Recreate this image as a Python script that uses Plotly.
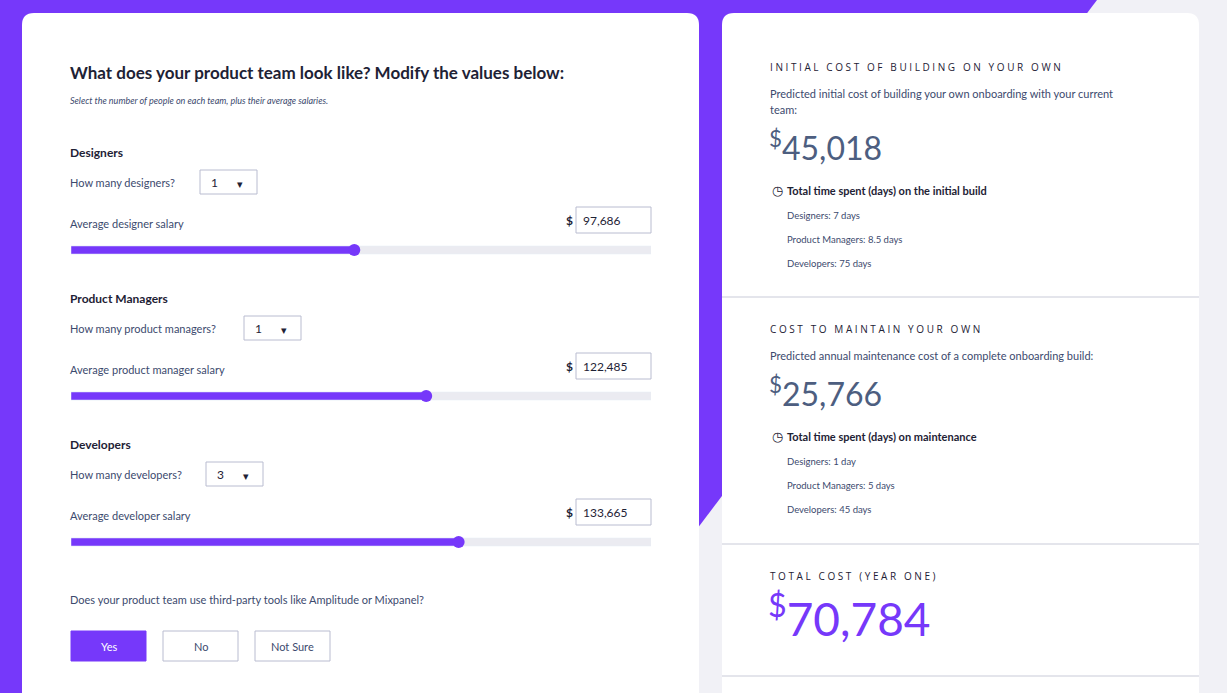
import plotly.graph_objects as go

# team inputs
roles = ["Designers", "Product Managers", "Developers"]
count_questions = ["How many designers?", "How many product managers?", "How many developers?"]
salary_labels = ["Average designer salary", "Average product manager salary", "Average developer salary"]
team_counts = [1, 1, 3]
salaries = [97686, 122485, 133665]
salary_max = 200000

# results
initial_cost = 45018
initial_days = [7, 8.5, 75]
maintain_cost = 25766
maintain_days = [1, 5, 45]
total_cost = 70784
tool_options = ["Yes", "No", "Not Sure"]

PURPLE = "#7638fa"
DARK = "#1e2235"
MUTED = "#3c4a6e"
BIGNUM = "#4d5e80"
FONT = "Lato"

fig = go.Figure()

# slider bars on their own axis, scaled by salary
row_y = [250, 396, 542]
slider_px = [71, 651]
W, H = 1227, 693
fig.add_trace(go.Bar(x=[salary_max] * 3, y=row_y, orientation="h", width=8,
                     marker=dict(color="#ebebf1"), xaxis="x2", yaxis="y", hoverinfo="skip"))
fig.add_trace(go.Bar(x=salaries, y=row_y, orientation="h", width=8,
                     marker=dict(color=PURPLE), xaxis="x2", yaxis="y", hoverinfo="skip"))
fig.add_trace(go.Scatter(x=salaries, y=row_y, mode="markers", xaxis="x2", yaxis="y",
                         marker=dict(size=12, color=PURPLE), hoverinfo="skip"))

shapes = []
ann = []

def text(x, y, s, size=11, color=MUTED, anchor="left", weight="normal", family=FONT):
    ann.append(dict(x=x, y=y, xref="x", yref="y", text=s, showarrow=False, xanchor=anchor, yanchor="middle",
                    borderpad=0, xshift=-2 if anchor == "left" else 0,
                    font=dict(size=size, color=color, family=family, weight=weight)))

def box(x0, y0, x1, y1, fill="white", line="rgba(0,0,0,0)"):
    shapes.append(dict(type="rect", xref="x", yref="y", x0=x0, y0=y0, x1=x1, y1=y1, fillcolor=fill,
                       line=dict(color=line, width=1), layer="below"))

def path(p, fill):
    shapes.append(dict(type="path", xref="x", yref="y", path=p, fillcolor=fill, line_width=0, layer="below"))

# background
path("M0,0 L1097,0 L573,693 L0,693 Z", PURPLE)
# cards
path("M22,25 Q22,13 34,13 L687,13 Q699,13 699,25 L699,693 L22,693 Z", "white")
path("M722,25 Q722,13 734,13 L1187,13 Q1199,13 1199,25 L1199,693 L722,693 Z", "white")
for yy in [297, 544, 676]:
    shapes.append(dict(type="line", xref="x", yref="y", x0=722, x1=1199, y0=yy, y1=yy,
                       line=dict(color="#c9cbd8", width=1)))

# left card
text(71, 72, "What does your product team look like? Modify the values below:", 17, DARK, weight="bold")
text(71, 100, "<i>Select the number of people on each team, plus their average salaries.</i>", 9, MUTED)
sec_y = [152, 298, 444]
drop_x = [200, 244, 206]
for i in range(3):
    y0 = sec_y[i]
    text(71, y0, roles[i], 12, DARK, weight="bold")
    text(71, y0 + 30, count_questions[i], 11, MUTED)
    box(drop_x[i], y0 + 18, drop_x[i] + 57, y0 + 42, "white", "#b9bcd0")
    text(drop_x[i] + 12, y0 + 30, str(team_counts[i]), 12, DARK)
    text(drop_x[i] + 40, y0 + 31, "▾", 11, DARK, anchor="center")
    text(71, y0 + 71, salary_labels[i], 11, MUTED)
    text(569, y0 + 68, "$", 12, DARK, anchor="center", weight="bold")
    box(576, y0 + 55, 651, y0 + 81, "white", "#b9bcd0")
    text(584, y0 + 68, f"{salaries[i]:,}", 12, DARK)

text(71, 599, "Does your product team use third-party tools like Amplitude or Mixpanel?", 11, MUTED)
btn_x = [71, 163, 255]
for i, opt in enumerate(tool_options):
    sel = i == 0
    box(btn_x[i], 631, btn_x[i] + 75, 661, PURPLE if sel else "white", PURPLE if sel else "#b9bcd0")
    text(btn_x[i] + 37.5, 646, opt, 11, "white" if sel else MUTED, anchor="center")

# right card
def cost_block(y0, title, desc, value, days, heading):
    text(771, y0, title, 10, DARK, family="Open Sans")
    for j, d in enumerate(desc):
        text(771, y0 + 26 + j * 16, d, 11, MUTED)
    nb = y0 + 26 + (len(desc) - 1) * 16 + 41
    text(770, nb - 4, f"<sup>$</sup>{value:,}", 32, BIGNUM)
    hy = nb + 40
    text(777, hy, "◷", 13, DARK, anchor="center")
    text(788, hy, heading, 11, DARK, weight="bold")
    for j, (r, d) in enumerate(zip(roles, days)):
        text(788, hy + 25 + j * 24, f"{r}: {d:g} {'day' if d == 1 else 'days'}", 9.5, MUTED)

cost_block(67, "I N I T I A L   C O S T   O F   B U I L D I N G   O N   Y O U R   O W N",
           ["Predicted initial cost of building your own onboarding with your current", "team:"],
           initial_cost, initial_days, "Total time spent (days) on the initial build")
cost_block(329, "C O S T   T O   M A I N T A I N   Y O U R   O W N",
           ["Predicted annual maintenance cost of a complete onboarding build:"],
           maintain_cost, maintain_days, "Total time spent (days) on maintenance")
text(771, 576, "T O T A L   C O S T   ( Y E A R   O N E )", 10, DARK, family="Open Sans")
text(769, 615, f"<sup>$</sup>{total_cost:,}", 46, PURPLE)

fig.update_layout(
    width=W, height=H, margin=dict(l=0, r=0, t=0, b=0, pad=0),
    paper_bgcolor="#f1f1f6", plot_bgcolor="rgba(0,0,0,0)",
    showlegend=False, barmode="overlay", shapes=shapes, annotations=ann,
    xaxis=dict(range=[0, W], visible=False, domain=[0, 1], fixedrange=True),
    yaxis=dict(range=[H, 0], visible=False, domain=[0, 1], fixedrange=True),
    xaxis2=dict(range=[0, salary_max], visible=False, anchor="y",
                domain=[slider_px[0] / W, slider_px[1] / W], fixedrange=True),
)
fig.write_html("out.html", config={"displayModeBar": False})

# drop the default page margin so the figure sits at the window corner
with open("out.html", encoding="utf-8") as f:
    page = f.read()
page = page.replace("<head>", "<head><style>body{margin:0;overflow:hidden}</style>", 1)
with open("out.html", "w", encoding="utf-8") as f:
    f.write(page)
